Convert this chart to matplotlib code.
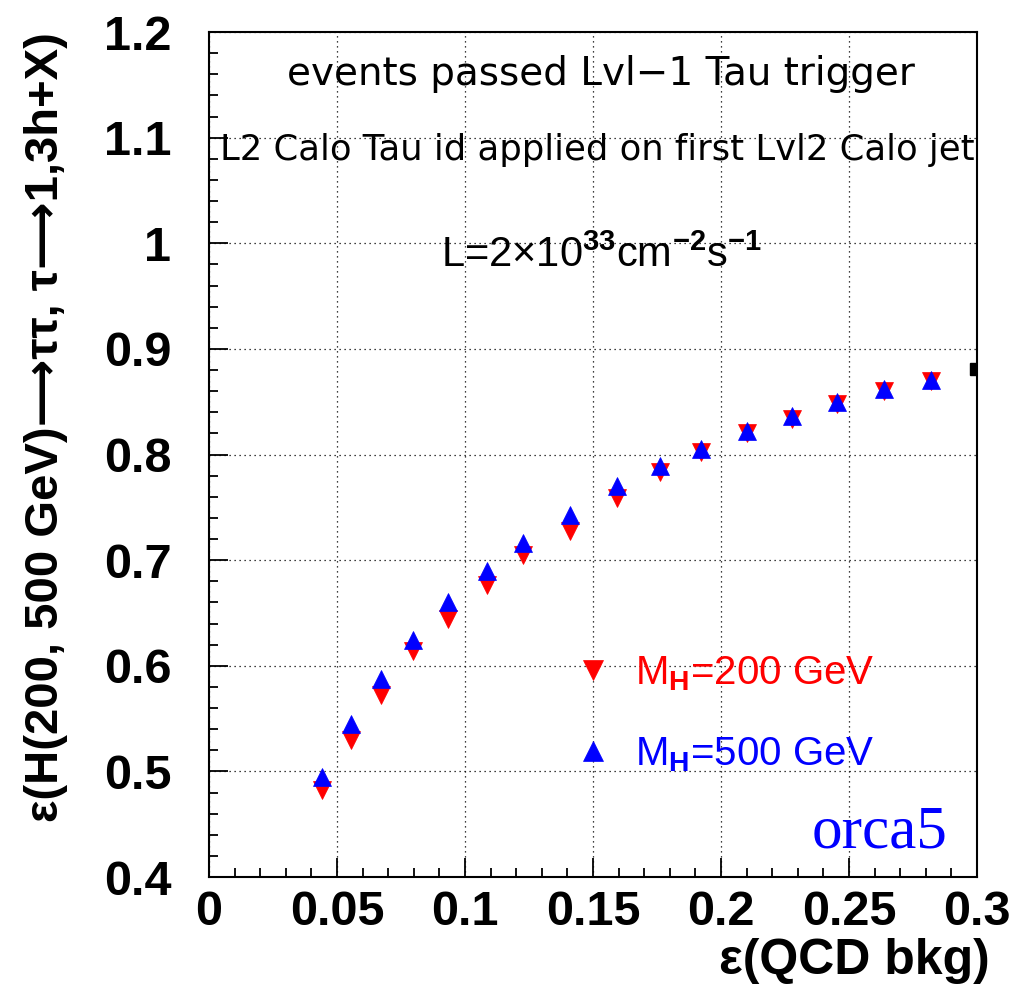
import numpy as np
import matplotlib
matplotlib.use("Agg")
import matplotlib.pyplot as plt
from matplotlib.ticker import MultipleLocator

# selection efficiency vs QCD background efficiency, one point per cut value
qcd_eff = [0.0443, 0.0555, 0.0671, 0.0796, 0.0932, 0.1086, 0.1227, 0.1409,
           0.1593, 0.1763, 0.1922, 0.2100, 0.2277, 0.2455, 0.2635, 0.2822]
eff_mh200 = [0.482, 0.530, 0.572, 0.614, 0.644, 0.676, 0.705, 0.728,
             0.759, 0.783, 0.802, 0.820, 0.834, 0.848, 0.860, 0.870]
eff_mh500 = [0.495, 0.545, 0.587, 0.624, 0.660, 0.690, 0.716, 0.743,
             0.770, 0.789, 0.805, 0.822, 0.836, 0.850, 0.862, 0.871]
# stray point sitting on the right frame
edge_x = [0.2995]
edge_y = [0.881]

xticks = [0, 0.05, 0.1, 0.15, 0.2, 0.25, 0.3]
xtick_labels = ["0", "0.05", "0.1", "0.15", "0.2", "0.25", "0.3"]
yticks = [0.4, 0.5, 0.6, 0.7, 0.8, 0.9, 1.0, 1.1, 1.2]
ytick_labels = ["0.4", "0.5", "0.6", "0.7", "0.8", "0.9", "1", "1.1", "1.2"]

plt.rcParams['font.family'] = ['Liberation Sans', 'DejaVu Sans']
plt.rcParams['mathtext.fontset'] = 'custom'
plt.rcParams['mathtext.rm'] = 'Liberation Sans'
plt.rcParams['mathtext.it'] = 'Liberation Sans:italic'
plt.rcParams['mathtext.bf'] = 'Liberation Sans:bold'

fig = plt.figure(figsize=(10.13, 9.94), dpi=100)
ax = fig.add_axes([0.2063, 0.1177, 0.7581, 0.8501])

red, = ax.plot(qcd_eff, eff_mh200, linestyle='none', marker='v', ms=13,
               color='#ff0000', mec='#ff0000', mew=0.5, zorder=3)
blue, = ax.plot(qcd_eff, eff_mh500, linestyle='none', marker='^', ms=13,
                color='#0000ff', mec='#0000ff', mew=0.5, zorder=4)
ax.plot(edge_x, edge_y, linestyle='none', marker='s', ms=8, color='black',
        zorder=5)

ax.set_xlim(0, 0.3)
ax.set_ylim(0.4, 1.2)
ax.set_xticks(xticks)
ax.set_xticklabels(xtick_labels)
ax.set_yticks(yticks)
ax.set_yticklabels(ytick_labels)
ax.xaxis.set_minor_locator(MultipleLocator(0.01))
ax.yaxis.set_minor_locator(MultipleLocator(0.02))
ax.tick_params(which='both', direction='in', top=False, right=False,
               width=1.3, color='black')
ax.tick_params(which='major', length=14)
ax.tick_params(which='minor', length=6.5)
ax.tick_params(axis='x', which='major', pad=9)
ax.tick_params(axis='y', which='major', pad=27)
for lab in ax.get_xticklabels() + ax.get_yticklabels():
    lab.set_fontsize(35)
    lab.set_fontweight('bold')

ax.grid(True, which='major', color='black', linestyle=(0, (1, 3)),
        linewidth=0.9)
for sp in ax.spines.values():
    sp.set_linewidth(1.5)

# long arrows come from DejaVu Sans through the family fallback list
ax.set_ylabel('\u03b5(H(200, 500 GeV)\u27f6\u03c4\u03c4, \u03c4\u27f61,3h+X)',
              fontsize=34, fontweight='bold', loc='top')
ax.yaxis.set_label_coords(-0.184, 1.0)
ax.set_xlabel('\u03b5(QCD bkg)', fontsize=36, fontweight='bold', loc='right')
ax.xaxis.set_label_coords(1.017, -0.072)

ax.text(0.1531, 1.1498, 'events passed Lvl\u22121 Tau trigger', fontsize=28,
        family='DejaVu Sans', ha='center', va='baseline')
ax.text(0.1516, 1.0788, 'L2 Calo Tau id applied on first Lvl2 Calo jet',
        fontsize=25.5, family='DejaVu Sans', ha='center', va='baseline')
ax.text(0.0906, 0.9775,
        r'L=2$\times$10$^{\mathbf{33}}$cm$^{\mathbf{-2}}$s$^{\mathbf{-1}}$',
        fontsize=30, ha='left', va='baseline')
ax.text(0.2355, 0.4278, 'orca5', fontsize=44, family='Liberation Serif',
        color='#0000ff', ha='left', va='baseline')

ax.legend([red, blue],
          [r'M$_\mathbf{H}$=200 GeV', r'M$_\mathbf{H}$=500 GeV'],
          loc='upper left', bbox_to_anchor=(0.1438, 0.611),
          bbox_transform=ax.transData, frameon=False, fontsize=29,
          markerscale=1.1, handlelength=0.8, handletextpad=0.65,
          labelspacing=1.05, borderpad=0, borderaxespad=0,
          labelcolor='linecolor')

fig.savefig('out.png', dpi=100)
